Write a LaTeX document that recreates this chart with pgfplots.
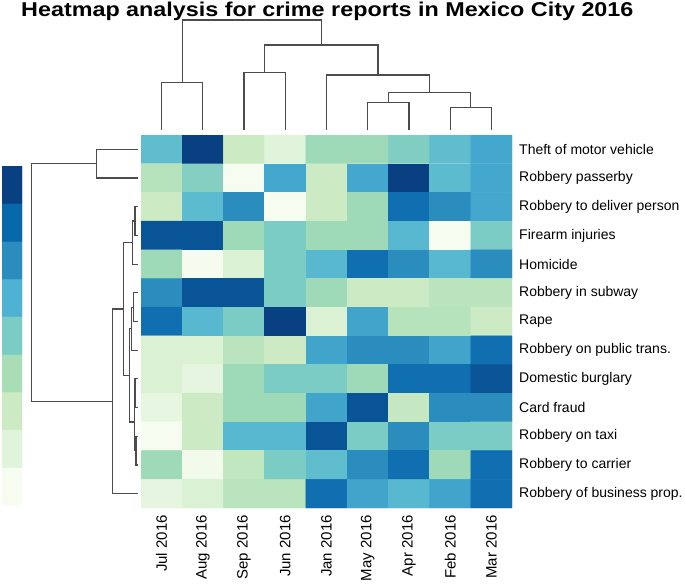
\documentclass[border=0pt]{standalone}
\usepackage{graphicx}
\usepackage{fontspec}
\setmainfont{Liberation Sans}
\usepackage{pgfplots}
\pgfplotsset{compat=1.18}
\begin{document}
\begin{tikzpicture}
\pgfplotsset{
 colormap={gnbu}{rgb255=(247,252,240) rgb255=(224,243,219) rgb255=(204,235,197) rgb255=(168,221,181) rgb255=(123,204,196) rgb255=(78,179,211) rgb255=(43,140,190) rgb255=(8,104,172) rgb255=(8,64,129)},
 dendro/.style={draw=black!70, line width=1.2pt, no marks},
}
\path[use as bounding box] (0pt,0pt) rectangle (685pt,-584pt);
\node[anchor=base west, inner sep=0pt] at (21pt,-16.7pt) {\scalebox{1.167}[1]{\bfseries\fontsize{20}{22}\selectfont Heatmap analysis for crime reports in Mexico City 2016}};

% heatmap
\begin{axis}[at={(141pt,-508pt)}, anchor=south west, scale only axis, width=371pt, height=373pt,
 xmin=0, xmax=9, ymin=0, ymax=13, y dir=reverse, axis line style={draw=none}, major tick length=0pt,
 xtick={0.5,1.5,...,8.5}, xticklabels={Jul 2016,Aug 2016,Sep 2016,Jun 2016,Jan 2016,May 2016,Apr 2016,Feb 2016,Mar 2016},
 ytick={0.5,1.5,...,12.5},
 yticklabels={Theft of motor vehicle,Robbery passerby,Robbery to deliver person,Firearm injuries,Homicide,Robbery in subway,Rape,Robbery on public trans.,Domestic burglary,Card fraud,Robbery on taxi,Robbery to carrier,Robbery of business prop.},
 yticklabel pos=right,
 xticklabel style={rotate=90, anchor=east, font=\fontsize{15}{17}\selectfont, inner sep=0pt},
 yticklabel style={anchor=west, font=\fontsize{14}{16}\selectfont, inner sep=0pt},
 xticklabel shift=7pt, yticklabel shift=7pt,
 colormap name=gnbu, point meta min=0, point meta max=8, enlargelimits=false]
\addplot[matrix plot*, mesh/cols=9, point meta=explicit] table[meta=c] {
x y c
0.5 0.5 4.6
1.5 0.5 8
2.5 0.5 2
3.5 0.5 1
4.5 0.5 3.2
5.5 0.5 3.2
6.5 0.5 3.9
7.5 0.5 4.6
8.5 0.5 5.3
0.5 1.5 2.6
1.5 1.5 3.8
2.5 1.5 0
3.5 1.5 5.3
4.5 1.5 2
5.5 1.5 5.3
6.5 1.5 8
7.5 1.5 4.7
8.5 1.5 5.3
0.5 2.5 2
1.5 2.5 4.7
2.5 2.5 6
3.5 2.5 0
4.5 2.5 2
5.5 2.5 3.2
6.5 2.5 6.8
7.5 2.5 6
8.5 2.5 5.3
0.5 3.5 7.5
1.5 3.5 7.5
2.5 3.5 3.2
3.5 3.5 4
4.5 3.5 3.2
5.5 3.5 3.2
6.5 3.5 4.8
7.5 3.5 0
8.5 3.5 4
0.5 4.5 3.2
1.5 4.5 0.1
2.5 4.5 1.3
3.5 4.5 4
4.5 4.5 4.8
5.5 4.5 6.8
6.5 4.5 6
7.5 4.5 4.8
8.5 4.5 6
0.5 5.5 6
1.5 5.5 7.5
2.5 5.5 7.5
3.5 5.5 4
4.5 5.5 3.2
5.5 5.5 2
6.5 5.5 2
7.5 5.5 2.5
8.5 5.5 2.5
0.5 6.5 6.8
1.5 6.5 4.8
2.5 6.5 4
3.5 6.5 8
4.5 6.5 1.3
5.5 6.5 5.4
6.5 6.5 2.6
7.5 6.5 2.6
8.5 6.5 2
0.5 7.5 1.3
1.5 7.5 1.3
2.5 7.5 2.5
3.5 7.5 2
4.5 7.5 5.4
5.5 7.5 6
6.5 7.5 6
7.5 7.5 5.4
8.5 7.5 6.8
0.5 8.5 1.3
1.5 8.5 0.8
2.5 8.5 3.2
3.5 8.5 4
4.5 8.5 4
5.5 8.5 3.2
6.5 8.5 6.8
7.5 8.5 6.8
8.5 8.5 7.5
0.5 9.5 0.7
1.5 9.5 2
2.5 9.5 3.2
3.5 9.5 3.2
4.5 9.5 5.4
5.5 9.5 7.5
6.5 9.5 2.2
7.5 9.5 6
8.5 9.5 6
0.5 10.5 0
1.5 10.5 2
2.5 10.5 4.8
3.5 10.5 4.8
4.5 10.5 7.5
5.5 10.5 4
6.5 10.5 6
7.5 10.5 4
8.5 10.5 4
0.5 11.5 3.2
1.5 11.5 0.2
2.5 11.5 2.3
3.5 11.5 4
4.5 11.5 4.6
5.5 11.5 6
6.5 11.5 6.8
7.5 11.5 3.2
8.5 11.5 6.8
0.5 12.5 0.8
1.5 12.5 1.3
2.5 12.5 2.5
3.5 12.5 2.5
4.5 12.5 6.8
5.5 12.5 5.4
6.5 12.5 4.8
7.5 12.5 5.4
8.5 12.5 6.8
};
\end{axis}

% column dendrogram
\begin{axis}[at={(141pt,-130pt)}, anchor=south west, scale only axis, width=371pt, height=110pt,
 xmin=0, xmax=9, ymin=0, ymax=110, hide axis, clip=false]
\addplot[dendro] coordinates {(0.5,0) (0.5,47.7) (1.5,47.7) (1.5,0)};
\addplot[dendro] coordinates {(2.5,0) (2.5,57.7) (3.5,57.7) (3.5,0)};
\addplot[dendro] coordinates {(5.5,0) (5.5,27.3) (6.5,27.3) (6.5,0)};
\addplot[dendro] coordinates {(7.5,0) (7.5,22.3) (8.5,22.3) (8.5,0)};
\addplot[dendro] coordinates {(6,27.3) (6,37.3) (8,37.3) (8,22.3)};
\addplot[dendro] coordinates {(4.5,0) (4.5,55) (7,55) (7,37.3)};
\addplot[dendro] coordinates {(3,57.7) (3,85) (5.75,85) (5.75,55)};
\addplot[dendro] coordinates {(1,47.7) (1,110) (4.375,110) (4.375,85)};
\end{axis}

% row dendrogram
\begin{axis}[at={(30pt,-508pt)}, anchor=south west, scale only axis, width=108pt, height=373pt,
 xmin=0, xmax=108, x dir=reverse, ymin=0, ymax=13, y dir=reverse, hide axis, clip=false]
\addplot[dendro] coordinates {(0,0.5) (41.3,0.5) (41.3,1.5) (0,1.5)};
\addplot[dendro] coordinates {(0,2.5) (3,2.5) (3,3.5) (0,3.5)};
\addplot[dendro] coordinates {(3,3) (5.3,3) (5.3,4.5) (0,4.5)};
\addplot[dendro] coordinates {(0,5.5) (4.7,5.5) (4.7,6.5) (0,6.5)};
\addplot[dendro] coordinates {(4.7,6) (6.3,6) (6.3,7.5) (0,7.5)};
\addplot[dendro] coordinates {(0,8.5) (3,8.5) (3,9.5) (0,9.5)};
\addplot[dendro] coordinates {(0,10.5) (2,10.5) (2,11.5) (0,11.5)};
\addplot[dendro] coordinates {(3,9) (3.7,9) (3.7,11) (2,11)};
\addplot[dendro] coordinates {(6.3,6.75) (8.7,6.75) (8.7,10) (3.7,10)};
\addplot[dendro] coordinates {(5.3,3.75) (14.7,3.75) (14.7,8.375) (8.7,8.375)};
\addplot[dendro] coordinates {(14.7,6.0625) (25.3,6.0625) (25.3,12.5) (0,12.5)};
\addplot[dendro] coordinates {(41.3,1) (106.3,1) (106.3,9.28125) (25.3,9.28125)};
\end{axis}

% colour key
\begin{axis}[at={(2pt,-505pt)}, anchor=south west, scale only axis, width=20pt, height=339pt,
 xmin=0, xmax=1, ymin=0, ymax=9, hide axis, enlargelimits=false,
 colormap name=gnbu, point meta min=0, point meta max=8]
\addplot[matrix plot*, mesh/cols=2, point meta=explicit] table[meta=c] {
x y c
0.25 0.5 0
0.75 0.5 0
0.25 1.5 1
0.75 1.5 1
0.25 2.5 2
0.75 2.5 2
0.25 3.5 3
0.75 3.5 3
0.25 4.5 4
0.75 4.5 4
0.25 5.5 5
0.75 5.5 5
0.25 6.5 6
0.75 6.5 6
0.25 7.5 7
0.75 7.5 7
0.25 8.5 8
0.75 8.5 8
};
\end{axis}
\end{tikzpicture}
\end{document}
